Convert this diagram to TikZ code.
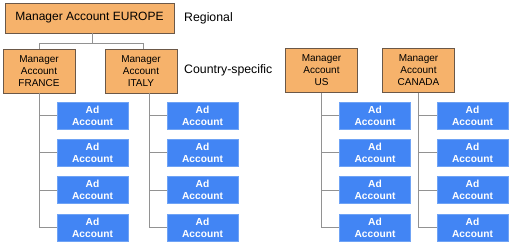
\documentclass[tikz,border=0pt]{standalone}
\usepackage{fontspec}
\setmainfont{Liberation Sans}
\usepackage{tikz}
\usetikzlibrary{positioning,calc}
\definecolor{mgrfill}{HTML}{F6B26B}
\definecolor{mgrline}{HTML}{6B5848}
\definecolor{adfill}{HTML}{4285F4}
\definecolor{adline}{HTML}{6FA3F5}
\definecolor{linkgray}{HTML}{929292}

\begin{document}
\begin{tikzpicture}[
    x=1pt, y=-1pt,
    manager/.style={
        rectangle, draw=mgrline, fill=mgrfill, line width=0.6pt,
        minimum width=72pt, minimum height=44pt,
        align=center, inner sep=1pt,
        font=\fontsize{10}{12}\selectfont
    },
    region/.style={manager, minimum width=169pt, minimum height=30pt,
        font=\fontsize{12}{14}\selectfont},
    adacc/.style={
        rectangle, draw=adline, fill=adfill, text=white, line width=0.6pt,
        minimum width=71pt, minimum height=27pt,
        align=center, inner sep=1pt,
        font=\fontsize{10.2}{12}\selectfont\bfseries
    },
    tier/.style={anchor=west, inner sep=0pt, font=\fontsize{12.3}{14}\selectfont},
    link/.style={draw=linkgray, line width=0.8pt}
]

\useasboundingbox (0,0) rectangle (512,246);

\def\yAd{115.5}
\def\gapAd{9.7pt}

% manager accounts
\node[region] (eu) at (89.5, 18) {Manager Account EUROPE};
\node[manager] (fr) at (39, 71) {Manager\\ Account\\ FRANCE};
\node[manager] (it) at (141, 71) {Manager\\ Account\\ ITALY};
\node[manager] (us) at (321.5, 70.5) {Manager\\ Account\\ US};
\node[manager] (ca) at (418.5, 70.5) {Manager\\ Account\\ CANADA};

\node[tier] (lreg) at (184, 18) {Regional};
\node[tier] (lcty) at (184, 70) {Country-specific};

% ad accounts
\node[adacc] (f1) at (92.5, \yAd) {Ad\\ Account};
\node[adacc, below=\gapAd of f1] (f2) {Ad\\ Account};
\node[adacc, below=\gapAd of f2] (f3) {Ad\\ Account};
\node[adacc, below=\gapAd of f3] (f4) {Ad\\ Account};

\node[adacc] (i1) at (202.5, \yAd) {Ad\\ Account};
\node[adacc, below=\gapAd of i1] (i2) {Ad\\ Account};
\node[adacc, below=\gapAd of i2] (i3) {Ad\\ Account};
\node[adacc, below=\gapAd of i3] (i4) {Ad\\ Account};

\node[adacc] (u1) at (375, \yAd) {Ad\\ Account};
\node[adacc, below=\gapAd of u1] (u2) {Ad\\ Account};
\node[adacc, below=\gapAd of u2] (u3) {Ad\\ Account};
\node[adacc, below=\gapAd of u3] (u4) {Ad\\ Account};

\node[adacc] (c1) at (472.5, \yAd) {Ad\\ Account};
\node[adacc, below=\gapAd of c1] (c2) {Ad\\ Account};
\node[adacc, below=\gapAd of c2] (c3) {Ad\\ Account};
\node[adacc, below=\gapAd of c3] (c4) {Ad\\ Account};

% connectors
\draw[link] ([xshift=2.5pt]eu.south) -- ++(0,10) coordinate (eujoin);
\draw[link] (fr.north) |- (eujoin) -| ([xshift=2pt]it.north);

\coordinate (itdrop) at ([xshift=8pt]it.south);

\draw[link] (fr.south) |- (f1.west);
\draw[link] (fr.south) |- (f2.west);
\draw[link] (fr.south) |- (f3.west);
\draw[link] (fr.south) |- (f4.west);

\draw[link] (itdrop) |- (i1.west);
\draw[link] (itdrop) |- (i2.west);
\draw[link] (itdrop) |- (i3.west);
\draw[link] (itdrop) |- (i4.west);

\draw[link] (us.south) |- (u1.west);
\draw[link] (us.south) |- (u2.west);
\draw[link] (us.south) |- (u3.west);
\draw[link] (us.south) |- (u4.west);

\draw[link] (ca.south) |- (c1.west);
\draw[link] (ca.south) |- (c2.west);
\draw[link] (ca.south) |- (c3.west);
\draw[link] (ca.south) |- (c4.west);

\end{tikzpicture}
\end{document}
